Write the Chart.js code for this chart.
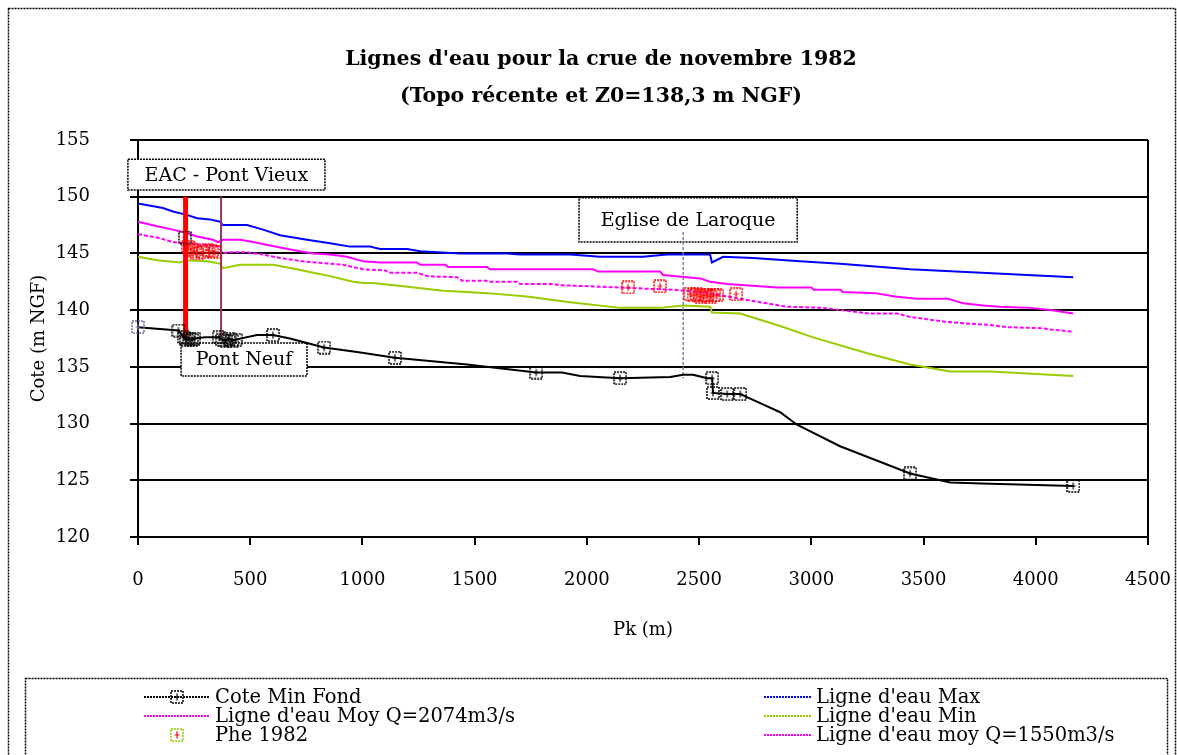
<!DOCTYPE html>
<html>
<head>
<meta charset="utf-8">
<script src="https://cdn.jsdelivr.net/npm/chart.js@4/dist/chart.umd.min.js"></script>
<style>
  html, body { margin: 0; padding: 0; background: #fff; }
  #wrap { width: 1177px; height: 755px; }
</style>
</head>
<body>
<div id="wrap"><canvas id="crue" width="1177" height="755"></canvas></div>
<script>
// Profil en long : Pk (m) et cotes (m NGF)
const fondPk   = [0, 180, 205, 215, 228, 240, 250, 300, 360, 375, 390, 405, 420, 435, 530, 601, 677, 829, 976, 1145, 1466, 1774, 1889, 1970, 2148, 2371, 2429, 2473, 2536, 2558, 2562, 2625, 2683, 2772, 2861, 2936, 3128, 3440, 3619, 3797, 4167];
const fondCote = [138.5, 138.2, 137.6, 137.4, 137.5, 137.4, 137.5, 137.6, 137.6, 137.4, 137.3, 137.5, 137.3, 137.4, 137.8, 137.8, 137.5, 136.7, 136.3, 135.8, 135.2, 134.5, 134.5, 134.2, 134.0, 134.1, 134.3, 134.3, 134.0, 134.0, 132.7, 132.6, 132.6, 131.8, 131.0, 129.9, 128.0, 125.6, 124.8, 124.7, 124.5];
// profils en travers levés (marqueurs)
const fondMarkPk   = [0, 180, 205, 215, 228, 240, 250, 360, 375, 390, 405, 420, 435, 601, 829, 1145, 1774, 2148, 2558, 2562, 2625, 2683, 3440, 4167];
const fondMarkCote = [138.5, 138.2, 137.6, 137.4, 137.5, 137.4, 137.5, 137.6, 137.4, 137.3, 137.5, 137.3, 137.4, 137.8, 136.7, 135.8, 134.5, 134.0, 134.0, 132.7, 132.6, 132.6, 125.6, 124.5];

const maxPk   = [0, 111, 156, 218, 263, 321, 365, 379, 486, 557, 633, 753, 856, 945, 1034, 1078, 1199, 1257, 1435, 1644, 1702, 1925, 2059, 2250, 2357, 2549, 2557, 2607, 2741, 2950, 3128, 3440, 4167];
const maxCote = [149.4, 149.0, 148.7, 148.4, 148.1, 148.0, 147.8, 147.5, 147.5, 147.1, 146.6, 146.2, 145.9, 145.6, 145.6, 145.4, 145.4, 145.2, 145.0, 145.0, 144.9, 144.9, 144.7, 144.7, 144.9, 144.9, 144.2, 144.7, 144.6, 144.3, 144.1, 143.6, 142.9];

const moy2074Pk   = [0, 85, 156, 218, 263, 334, 357, 379, 455, 513, 588, 691, 780, 856, 931, 1003, 1078, 1243, 1257, 1368, 1381, 1555, 1569, 2028, 2050, 2326, 2340, 2504, 2549, 2625, 2848, 2861, 3000, 3010, 3130, 3140, 3284, 3373, 3471, 3610, 3677, 3766, 3841, 3975, 4073, 4167];
const moy2074Cote = [147.8, 147.4, 147.1, 146.8, 146.5, 146.2, 146.0, 146.2, 146.2, 146.0, 145.7, 145.3, 145.0, 144.9, 144.7, 144.3, 144.2, 144.2, 144.0, 144.0, 143.8, 143.8, 143.6, 143.6, 143.4, 143.4, 143.1, 142.8, 142.5, 142.3, 142.0, 142.0, 142.0, 141.8, 141.8, 141.6, 141.5, 141.2, 141.0, 141.0, 140.6, 140.4, 140.3, 140.2, 140.0, 139.7];

const minPk   = [0, 85, 187, 201, 209, 307, 365, 379, 455, 602, 708, 780, 856, 958, 1003, 1047, 1181, 1359, 1466, 1555, 1733, 1925, 2148, 2326, 2429, 2549, 2557, 2683, 2861, 3008, 3249, 3440, 3619, 3797, 4167];
const minCote = [144.7, 144.4, 144.2, 144.3, 144.4, 144.3, 144.1, 143.7, 144.0, 144.0, 143.6, 143.3, 143.0, 142.5, 142.4, 142.4, 142.1, 141.7, 141.6, 141.5, 141.2, 140.7, 140.2, 140.2, 140.4, 140.3, 139.8, 139.7, 138.6, 137.6, 136.2, 135.2, 134.6, 134.6, 134.2];

const moy1550Pk   = [0, 85, 156, 218, 321, 357, 379, 410, 486, 557, 633, 735, 856, 914, 1003, 1101, 1123, 1243, 1288, 1422, 1444, 1555, 1569, 1689, 1702, 1849, 1881, 2148, 2250, 2384, 2549, 2683, 2803, 2892, 3053, 3173, 3262, 3382, 3440, 3516, 3588, 3708, 3797, 3872, 4033, 4064, 4167];
const moy1550Cote = [146.7, 146.4, 146.0, 145.9, 145.7, 145.6, 145.0, 145.1, 145.1, 144.9, 144.6, 144.3, 144.1, 144.0, 143.6, 143.5, 143.3, 143.3, 143.0, 142.9, 142.6, 142.6, 142.5, 142.5, 142.3, 142.3, 142.2, 142.0, 141.9, 141.8, 141.5, 141.0, 140.6, 140.3, 140.2, 139.9, 139.7, 139.7, 139.4, 139.2, 139.0, 138.8, 138.7, 138.5, 138.4, 138.3, 138.1];

const phePk   = [209, 222, 235, 250, 265, 290, 310, 330, 345, 2184, 2326, 2460, 2475, 2490, 2505, 2520, 2535, 2550, 2565, 2580, 2665];
const pheCote = [146.4, 145.6, 145.4, 145.2, 145.0, 145.1, 145.3, 145.2, 145.1, 142.0, 142.1, 141.4, 141.3, 141.4, 141.2, 141.3, 141.3, 141.2, 141.3, 141.3, 141.4];

// repères verticaux : [pk, cote haute, cote basse]
const pontVieux = [212, 150.0, 137.5];
const pontNeuf  = [370, 150.0, 137.6];
const eglise    = [2429, 146.9, 134.0];

// étiquettes : [texte, pk gauche, pk droit, cote haute, cote basse]
const labels = [
  ['EAC - Pont Vieux', -45, 833, 153.3, 150.6],
  ['Pont Neuf', 192, 753, 137.1, 134.2],
  ['Eglise de Laroque', 1965, 2937, 149.9, 146.0]
];

const titleLines = ["Lignes d'eau pour la crue de novembre 1982", '(Topo récente et Z0=138,3 m NGF)'];
const xTicks = [0, 500, 1000, 1500, 2000, 2500, 3000, 3500, 4000, 4500];
const yTicks = [120, 125, 130, 135, 140, 145, 150, 155];

const SERIF = "'DejaVu Serif', serif";

function pts(xs, ys) {
  return xs.map((x, i) => ({ x: x, y: ys[i] }));
}

// Excel-like square marker with a dotted border and a small cross
function makeMarker(box, cross) {
  const c = document.createElement('canvas');
  c.width = 14; c.height = 14;
  const g = c.getContext('2d');
  g.strokeStyle = box;
  g.lineWidth = 1.5;
  g.setLineDash([2, 1]);
  g.strokeRect(1, 1, 12, 12);
  g.setLineDash([]);
  g.strokeStyle = cross;
  g.lineWidth = 1.2;
  g.beginPath();
  g.moveTo(7, 3.5); g.lineTo(7, 10.5);
  g.moveTo(4.5, 7); g.lineTo(9.5, 7);
  g.stroke();
  return c;
}
const markFond = makeMarker('#000', '#000');
const markFirst = makeMarker('#6b6b9e', '#6b6b9e');
const markPhe = makeMarker('#ff0000', '#ff0000');
const markPheBlack = makeMarker('#000', '#ff0000');
const markPheLegend = makeMarker('#99cc00', '#ff0000');

const datasets = [
  { label: 'Cote Min Fond', data: pts(fondPk, fondCote), borderColor: '#000', borderWidth: 2, pointRadius: 0, order: 1, legend: { col: 0, row: 0, marker: markFond } },
  { label: 'fond-marks', data: pts(fondMarkPk, fondMarkCote), showLine: false, pointRadius: 7, clip: 10,
    pointStyle: (c) => c.dataIndex === 0 ? markFirst : markFond, order: 0 },
  { label: "Ligne d'eau Max", data: pts(maxPk, maxCote), borderColor: '#0000ff', borderWidth: 2, pointRadius: 0, order: 5, legend: { col: 1, row: 0 } },
  { label: "Ligne d'eau Moy Q=2074m3/s", data: pts(moy2074Pk, moy2074Cote), borderColor: '#ff00ff', borderWidth: 2, pointRadius: 0, order: 5, legend: { col: 0, row: 1 } },
  { label: "Ligne d'eau Min", data: pts(minPk, minCote), borderColor: '#99cc00', borderWidth: 2, pointRadius: 0, order: 5, legend: { col: 1, row: 1 } },
  { label: 'Phe 1982', data: pts(phePk, pheCote), showLine: false, pointRadius: 7, clip: 10,
    pointStyle: (c) => c.dataIndex === 0 ? markPheBlack : markPhe, order: 0, legend: { col: 0, row: 2, marker: markPheLegend, noLine: true } },
  { label: "Ligne d'eau moy Q=1550m3/s", data: pts(moy1550Pk, moy1550Cote), borderColor: '#ff00ff', borderWidth: 2, borderDash: [4, 2], pointRadius: 0, order: 5, legend: { col: 1, row: 2 } },
  { label: 'pont-vieux', data: [{ x: pontVieux[0], y: pontVieux[1] }, { x: pontVieux[0], y: pontVieux[2] }], borderColor: '#ff0000', borderWidth: 5, pointRadius: 0, order: 2 },
  { label: 'pont-neuf', data: [{ x: pontNeuf[0], y: pontNeuf[1] }, { x: pontNeuf[0], y: pontNeuf[2] }], borderColor: '#993366', borderWidth: 2, pointRadius: 0, order: 2 },
  { label: 'eglise', data: [{ x: eglise[0], y: eglise[1] }, { x: eglise[0], y: eglise[2] }], borderColor: '#8080b0', borderWidth: 1.5, borderDash: [3, 2], pointRadius: 0, order: 2 }
];

// text boxes sit under the curves, like in the spreadsheet
const boxes = {
  id: 'boxes',
  beforeDatasetsDraw(chart) {
    const ctx = chart.ctx;
    const xs = chart.scales.x, ys = chart.scales.y;
    ctx.save();
    ctx.font = '19px ' + SERIF;
    ctx.textAlign = 'center';
    ctx.textBaseline = 'middle';
    labels.forEach(([txt, x0, x1, y0, y1]) => {
      const l = xs.getPixelForValue(x0), r = xs.getPixelForValue(x1);
      const t = ys.getPixelForValue(y0), b = ys.getPixelForValue(y1);
      ctx.fillStyle = '#fff';
      ctx.fillRect(l, t, r - l, b - t);
      ctx.setLineDash([2, 1]);
      ctx.lineWidth = 1.5;
      ctx.strokeStyle = '#000';
      ctx.strokeRect(l, t, r - l, b - t);
      ctx.setLineDash([]);
      ctx.fillStyle = '#000';
      ctx.fillText(txt, (l + r) / 2, (t + b) / 2 + 1);
    });
    ctx.restore();
  }
};

// frame, title, plot border and the two-column legend
const decor = {
  id: 'decor',
  afterDraw(chart) {
    const ctx = chart.ctx;
    const a = chart.chartArea;
    ctx.save();

    ctx.fillStyle = '#000';
    ctx.textAlign = 'center';
    ctx.textBaseline = 'middle';
    ctx.font = 'bold 20.5px ' + SERIF;
    ctx.fillText(titleLines[0], 601, 60);
    ctx.fillText(titleLines[1], 601, 97);

    // right border of the plot area
    ctx.strokeStyle = '#000';
    ctx.lineWidth = 2;
    ctx.beginPath();
    ctx.moveTo(a.right, a.top); ctx.lineTo(a.right, a.bottom);
    ctx.stroke();

    // outer frame
    ctx.setLineDash([2, 1]);
    ctx.lineWidth = 1.5;
    ctx.strokeRect(8.5, 8.5, 1167, 760);

    // legend box
    ctx.strokeRect(25.5, 678.5, 1142, 90);
    ctx.setLineDash([]);

    const colX = [144, 764];
    const colW = [66, 47];
    const rowY = [697, 716, 735];
    ctx.textAlign = 'left';
    ctx.font = '19.5px ' + SERIF;
    chart.data.datasets.forEach(ds => {
      if (!ds.legend) return;
      const lg = ds.legend;
      const x0 = colX[lg.col], w = colW[lg.col], y = rowY[lg.row];
      if (!lg.noLine) {
        ctx.strokeStyle = ds.borderColor;
        ctx.lineWidth = 2;
        ctx.setLineDash([2, 1]);
        ctx.beginPath();
        ctx.moveTo(x0, y); ctx.lineTo(x0 + w, y);
        ctx.stroke();
        ctx.setLineDash([]);
      }
      if (lg.marker) {
        ctx.drawImage(lg.marker, x0 + w / 2 - 7, y - 7);
      }
      ctx.fillStyle = '#000';
      ctx.fillText(ds.label, x0 + w + 5, y + 1);
    });
    ctx.restore();
  }
};

new Chart(document.getElementById('crue'), {
  type: 'line',
  data: { datasets: datasets },
  options: {
    responsive: false,
    animation: false,
    devicePixelRatio: 1,
    layout: { padding: { left: 0, right: 29, top: 140, bottom: 105 } },
    plugins: {
      legend: { display: false },
      tooltip: { enabled: false },
      title: { display: false }
    },
    scales: {
      x: {
        type: 'linear',
        min: 0, max: 4500,
        afterBuildTicks: (s) => { s.ticks = xTicks.map(v => ({ value: v })); },
        afterFit: (s) => { s.height = 113; s.paddingLeft = 0; s.paddingRight = 0; },
        grid: { drawOnChartArea: false, color: '#000', lineWidth: 2, tickLength: 8 },
        border: { color: '#000', width: 2 },
        ticks: { color: '#000', font: { family: SERIF, size: 18 }, padding: 25, maxRotation: 0, callback: (v) => String(v) },
        title: { display: true, text: 'Pk (m)', color: '#000', font: { family: SERIF, size: 18 }, padding: { bottom: 9 } }
      },
      y: {
        type: 'linear',
        min: 120, max: 155,
        afterBuildTicks: (s) => { s.ticks = yTicks.map(v => ({ value: v })); },
        afterFit: (s) => { s.width = 138; s.paddingTop = 0; s.paddingBottom = 0; },
        grid: { color: '#000', lineWidth: 2, tickLength: 8 },
        border: { color: '#000', width: 2 },
        ticks: { color: '#000', font: { family: SERIF, size: 18 }, padding: 40, callback: (v) => String(v) },
        title: { display: true, text: 'Cote (m NGF)', color: '#000', font: { family: SERIF, size: 18 }, padding: { top: 29 } }
      }
    }
  },
  plugins: [boxes, decor]
});
</script>
</body>
</html>
